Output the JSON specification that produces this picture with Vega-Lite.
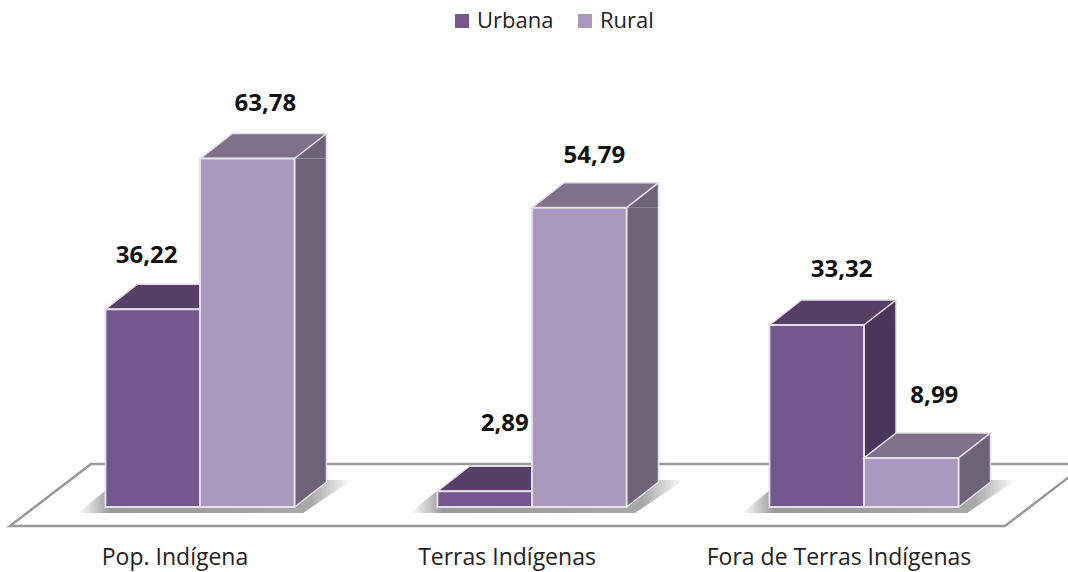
{
"$schema":"https://vega.github.io/schema/vega-lite/v6.json",
"autosize":{"type":"none"},
"padding":{"left":34,"top":70,"right":38,"bottom":65},
"width":996,"height":437,
"background":"white",
"config":{"view":{"stroke":null},"font":"Open Sans"},
"data":{"values":[
{"categoria":"Pop. Indígena","serie":"Urbana","valor":36.22,"rotulo":"36,22"},
{"categoria":"Pop. Indígena","serie":"Rural","valor":63.78,"rotulo":"63,78"},
{"categoria":"Terras Indígenas","serie":"Urbana","valor":2.89,"rotulo":"2,89"},
{"categoria":"Terras Indígenas","serie":"Rural","valor":54.79,"rotulo":"54,79"},
{"categoria":"Fora de Terras Indígenas","serie":"Urbana","valor":33.32,"rotulo":"33,32"},
{"categoria":"Fora de Terras Indígenas","serie":"Rural","valor":8.99,"rotulo":"8,99"}
]},
"encoding":{
"x":{"field":"categoria","type":"nominal","sort":["Pop. Indígena","Terras Indígenas","Fora de Terras Indígenas"],"title":null,
"scale":{"domain":["Pop. Indígena","Terras Indígenas","Fora de Terras Indígenas"],"paddingInner":0.43,"paddingOuter":0.215},
"axis":{"domain":false,"ticks":false,"labelAngle":0,"labelFontSize":23,"labelColor":"#222222","labelPadding":39,"labelOffset":-25,"labelFont":"Open Sans","labelLimit":500}}
},
"layer":[
{"transform":[{"filter":"datum.categoria==='Terras Indígenas' && datum.serie==='Urbana'"}],
"mark":{"type":"point","filled":true,"size":4,"fill":"white","stroke":"#999999","strokeWidth":2.5,"opacity":1,
"shape":"M-522,19 L-441,-43 L554,-43 L473,19 Z"},
"encoding":{"y":{"datum":0,"type":"quantitative","scale":{"domain":[0,79.89]},"axis":null}}},
{"transform":[{"filter":"datum.serie==='Urbana'"}],
"mark":{"type":"point","filled":true,"size":4,"opacity":1,
"fill":{"gradient":"linear","x1":0,"x2":1,"y1":0,"y2":0,"stops":[{"offset":0,"color":"#ffffff"},{"offset":0.12,"color":"#999999"},{"offset":0.85,"color":"#a8a8a8"},{"offset":1,"color":"#ffffff"}]},
"shape":"M-122,6 L-94,-17 L-94,0 L95,0 L127,-27 L152,-27 L103,6 Z"},
"encoding":{"y":{"datum":0,"type":"quantitative"}}},

{"transform":[{"filter":"datum.serie==='Urbana'"}],"mark":{"type":"rule","strokeWidth":32,"xOffset":16,"y2Offset":-25,"color":"#49365A"},
"encoding":{"y":{"field":"valor","type":"quantitative"},"y2":{"datum":0}}},
{"transform":[{"filter":"datum.serie==='Urbana'"}],"mark":{"type":"point","filled":true,"size":4,"opacity":1,"fill":"#49365A","shape":"M47.25,0 L79.25,-25 L79.25,0 Z"},
"encoding":{"xOffset":{"field":"serie","sort":["Urbana","Rural"],"scale":{"domain":["Urbana","Rural"]}},"y":{"field":"valor","type":"quantitative"}}},
{"transform":[{"filter":"datum.serie==='Urbana'"}],"mark":{"type":"point","filled":true,"size":4,"opacity":1,"fill":"#573F68","stroke":"#E4DFE8","strokeWidth":1.5,"shape":"M-47.25,0 L-15.25,-25 L79.25,-25 L47.25,0 Z"},
"encoding":{"xOffset":{"field":"serie","sort":["Urbana","Rural"],"scale":{"domain":["Urbana","Rural"]}},"y":{"field":"valor","type":"quantitative"}}},
{"transform":[{"filter":"datum.serie==='Urbana'"}],"mark":{"type":"rule","color":"#E4DFE8","strokeWidth":1.5,"xOffset":32,"yOffset":-25,"y2Offset":-25},
"encoding":{"y":{"field":"valor","type":"quantitative"},"y2":{"datum":0}}},
{"transform":[{"filter":"datum.serie==='Urbana'"}],"mark":{"type":"bar","stroke":"#E4DFE8","strokeWidth":2},
"encoding":{"xOffset":{"field":"serie","sort":["Urbana","Rural"],"scale":{"domain":["Urbana","Rural"]}},"y":{"field":"valor","type":"quantitative"},"y2":{"datum":0},
"color":{"field":"serie","type":"nominal","scale":{"domain":["Urbana","Rural"],"range":["#73578D","#AA99BF"]},
"legend":{"orient":"none","legendX":417,"legendY":-60,"direction":"horizontal","title":null,"symbolType":"square","symbolSize":196,"symbolStrokeWidth":0,"labelFontSize":22,"labelColor":"#222222","columnPadding":20,"labelOffset":4}}}},

{"transform":[{"filter":"datum.serie==='Rural'"}],"mark":{"type":"rule","strokeWidth":32,"xOffset":110.5,"y2Offset":-25,"color":"#6C6379"},
"encoding":{"y":{"field":"valor","type":"quantitative"},"y2":{"datum":0}}},
{"transform":[{"filter":"datum.serie==='Rural'"}],"mark":{"type":"point","filled":true,"size":4,"opacity":1,"fill":"#6C6379","shape":"M47.25,0 L79.25,-25 L79.25,0 Z"},
"encoding":{"xOffset":{"field":"serie","sort":["Urbana","Rural"],"scale":{"domain":["Urbana","Rural"]}},"y":{"field":"valor","type":"quantitative"}}},
{"transform":[{"filter":"datum.serie==='Rural'"}],"mark":{"type":"point","filled":true,"size":4,"opacity":1,"fill":"#6C6379","shape":"M47.25,0 L79.25,-25 L47.25,-25 Z"},
"encoding":{"xOffset":{"field":"serie","sort":["Urbana","Rural"],"scale":{"domain":["Urbana","Rural"]}},"y":{"datum":0,"type":"quantitative"}}},
{"transform":[{"filter":"datum.serie==='Rural'"}],"mark":{"type":"point","filled":false,"size":4,"opacity":1,"stroke":"#E4DFE8","strokeWidth":1.5,"shape":"M47.25,0 L79.25,-25"},
"encoding":{"xOffset":{"field":"serie","sort":["Urbana","Rural"],"scale":{"domain":["Urbana","Rural"]}},"y":{"datum":0,"type":"quantitative"}}},
{"transform":[{"filter":"datum.serie==='Rural'"}],"mark":{"type":"point","filled":true,"size":4,"opacity":1,"fill":"#80718B","stroke":"#E4DFE8","strokeWidth":1.5,"shape":"M-47.25,0 L-15.25,-25 L79.25,-25 L47.25,0 Z"},
"encoding":{"xOffset":{"field":"serie","sort":["Urbana","Rural"],"scale":{"domain":["Urbana","Rural"]}},"y":{"field":"valor","type":"quantitative"}}},
{"transform":[{"filter":"datum.serie==='Rural'"}],"mark":{"type":"rule","color":"#E4DFE8","strokeWidth":1.5,"xOffset":126.5,"yOffset":-25,"y2Offset":-25},
"encoding":{"y":{"field":"valor","type":"quantitative"},"y2":{"datum":0}}},
{"transform":[{"filter":"datum.serie==='Rural'"}],"mark":{"type":"bar","stroke":"#E4DFE8","strokeWidth":2},
"encoding":{"xOffset":{"field":"serie","sort":["Urbana","Rural"],"scale":{"domain":["Urbana","Rural"]}},"y":{"field":"valor","type":"quantitative"},"y2":{"datum":0},
"color":{"field":"serie","type":"nominal"}}},

{"transform":[{"filter":"datum.rotulo==='36,22'"}],"mark":{"type":"text","fontWeight":"bold","fontSize":24,"color":"#111111","dx":-6,"dy":-53},
"encoding":{"xOffset":{"field":"serie","sort":["Urbana","Rural"],"scale":{"domain":["Urbana","Rural"]}},"y":{"field":"valor","type":"quantitative"},"text":{"field":"rotulo"}}},
{"transform":[{"filter":"datum.rotulo==='63,78'"}],"mark":{"type":"text","fontWeight":"bold","fontSize":24,"color":"#111111","dx":18,"dy":-55},
"encoding":{"xOffset":{"field":"serie","sort":["Urbana","Rural"],"scale":{"domain":["Urbana","Rural"]}},"y":{"field":"valor","type":"quantitative"},"text":{"field":"rotulo"}}},
{"transform":[{"filter":"datum.rotulo==='2,89'"}],"mark":{"type":"text","fontWeight":"bold","fontSize":24,"color":"#111111","dx":20,"dy":-67},
"encoding":{"xOffset":{"field":"serie","sort":["Urbana","Rural"],"scale":{"domain":["Urbana","Rural"]}},"y":{"field":"valor","type":"quantitative"},"text":{"field":"rotulo"}}},
{"transform":[{"filter":"datum.rotulo==='54,79'"}],"mark":{"type":"text","fontWeight":"bold","fontSize":24,"color":"#111111","dx":15,"dy":-52},
"encoding":{"xOffset":{"field":"serie","sort":["Urbana","Rural"],"scale":{"domain":["Urbana","Rural"]}},"y":{"field":"valor","type":"quantitative"},"text":{"field":"rotulo"}}},
{"transform":[{"filter":"datum.rotulo==='33,32'"}],"mark":{"type":"text","fontWeight":"bold","fontSize":24,"color":"#111111","dx":25,"dy":-55},
"encoding":{"xOffset":{"field":"serie","sort":["Urbana","Rural"],"scale":{"domain":["Urbana","Rural"]}},"y":{"field":"valor","type":"quantitative"},"text":{"field":"rotulo"}}},
{"transform":[{"filter":"datum.rotulo==='8,99'"}],"mark":{"type":"text","fontWeight":"bold","fontSize":24,"color":"#111111","dx":23,"dy":-62},
"encoding":{"xOffset":{"field":"serie","sort":["Urbana","Rural"],"scale":{"domain":["Urbana","Rural"]}},"y":{"field":"valor","type":"quantitative"},"text":{"field":"rotulo"}}}
]
}
